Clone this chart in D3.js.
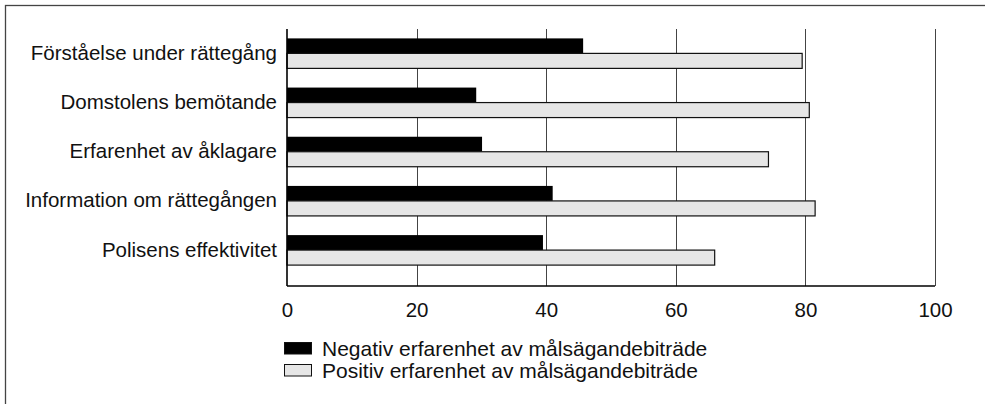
<!DOCTYPE html>
<html>
<head>
<meta charset="utf-8">
<script src="https://cdn.jsdelivr.net/npm/d3@7"></script>
<style>
  body { margin: 0; background: #fff; }
  svg { display: block; font-family: "Liberation Sans", Arial, sans-serif; }
</style>
</head>
<body>
<script>
// categories, top to bottom
var categories = [
    "Förståelse under rättegång",
    "Domstolens bemötande",
    "Erfarenhet av åklagare",
    "Information om rättegången",
    "Polisens effektivitet"
];
// percent values
var negativValues = [45.7, 29.2, 30.1, 41.0, 39.5];
var positivValues = [79.5, 80.6, 74.3, 81.5, 66.0];
var seriesNames = [
    "Negativ erfarenhet av målsägandebiträde",
    "Positiv erfarenhet av målsägandebiträde"
];
var xTicks = [0, 20, 40, 60, 80, 100];

var width = 985, height = 404;
var margin = {top: 29, right: 50, bottom: 118, left: 287};
var plotW = width - margin.left - margin.right;   // 648
var plotH = height - margin.top - margin.bottom;  // 257

var svg = d3.select("body").append("svg")
    .attr("width", width)
    .attr("height", height);

//outer frame (right and bottom edges fall outside the view)
svg.append("rect")
    .attr("x", 5.5).attr("y", 5.5)
    .attr("width", width).attr("height", height)
    .attr("fill", "none")
    .attr("stroke", "#444")
    .attr("stroke-width", 1.3);

var g = svg.append("g")
    .attr("transform", "translate(" + margin.left + "," + margin.top + ")");

var x = d3.scaleLinear().domain([0, 100]).range([0, plotW]);

var y = d3.scaleBand()
    .domain(categories)
    .range([0, plotH])
    .paddingInner(0.39)
    .paddingOuter(0.308)
    .align(0.31);

var half = y.bandwidth() / 2;

//gridlines
g.selectAll(".grid")
    .data(xTicks.slice(1))
    .enter().append("line")
    .attr("class", "grid")
    .attr("x1", function(d) { return Math.round(x(d)) + 0.5; })
    .attr("x2", function(d) { return Math.round(x(d)) + 0.5; })
    .attr("y1", 0)
    .attr("y2", plotH)
    .attr("stroke", "#444")
    .attr("stroke-width", 1);

//bars - negative (black)
g.selectAll(".neg")
    .data(categories)
    .enter().append("rect")
    .attr("class", "neg")
    .attr("x", x(0))
    .attr("y", function(d) { return y(d); })
    .attr("width", function(d, i) { return x(negativValues[i]) - x(0); })
    .attr("height", half)
    .attr("fill", "#000");

//bars - positive (light grey, outlined)
g.selectAll(".pos")
    .data(categories)
    .enter().append("rect")
    .attr("class", "pos")
    .attr("x", x(0))
    .attr("y", function(d) { return y(d) + half; })
    .attr("width", function(d, i) { return x(positivValues[i]) - x(0); })
    .attr("height", half)
    .attr("fill", "#e6e6e6")
    .attr("stroke", "#111")
    .attr("stroke-width", 1.2);

//axes lines
g.append("line")
    .attr("x1", 0).attr("x2", 0)
    .attr("y1", 0).attr("y2", plotH)
    .attr("stroke", "#000").attr("stroke-width", 1.6);
g.append("line")
    .attr("x1", 0).attr("x2", plotW)
    .attr("y1", plotH).attr("y2", plotH)
    .attr("stroke", "#000").attr("stroke-width", 1.6);

//x axis labels
var xAxis = d3.axisBottom(x)
    .tickValues(xTicks)
    .tickSize(0)
    .tickPadding(16);
var xa = g.append("g")
    .attr("transform", "translate(0," + plotH + ")")
    .call(xAxis);
xa.select(".domain").remove();
xa.selectAll("text")
    .attr("font-size", 20.5)
    .attr("font-family", "Liberation Sans, Arial, sans-serif")
    .attr("fill", "#111");

//y axis labels
var yAxis = d3.axisLeft(y).tickSize(0).tickPadding(10);
var ya = g.append("g").call(yAxis);
ya.select(".domain").remove();
ya.selectAll("text")
    .attr("font-size", 20.5)
    .attr("font-family", "Liberation Sans, Arial, sans-serif")
    .attr("fill", "#111");

//legend
var legend = svg.append("g")
    .attr("transform", "translate(284,342)");
var legendFill = ["#000", "#e6e6e6"];
var items = legend.selectAll(".item")
    .data(seriesNames)
    .enter().append("g")
    .attr("class", "item")
    .attr("transform", function(d, i) { return "translate(0," + (i * 22) + ")"; });
items.append("rect")
    .attr("x", 0.5).attr("y", 0.5)
    .attr("width", 27).attr("height", 11.5)
    .attr("fill", function(d, i) { return legendFill[i]; })
    .attr("stroke", "#111")
    .attr("stroke-width", 1);
items.append("text")
    .attr("x", 38)
    .attr("y", 6.5)
    .attr("dy", "0.35em")
    .attr("font-size", 21)
    .attr("fill", "#111")
    .text(function(d) { return d; });
</script>
</body>
</html>
